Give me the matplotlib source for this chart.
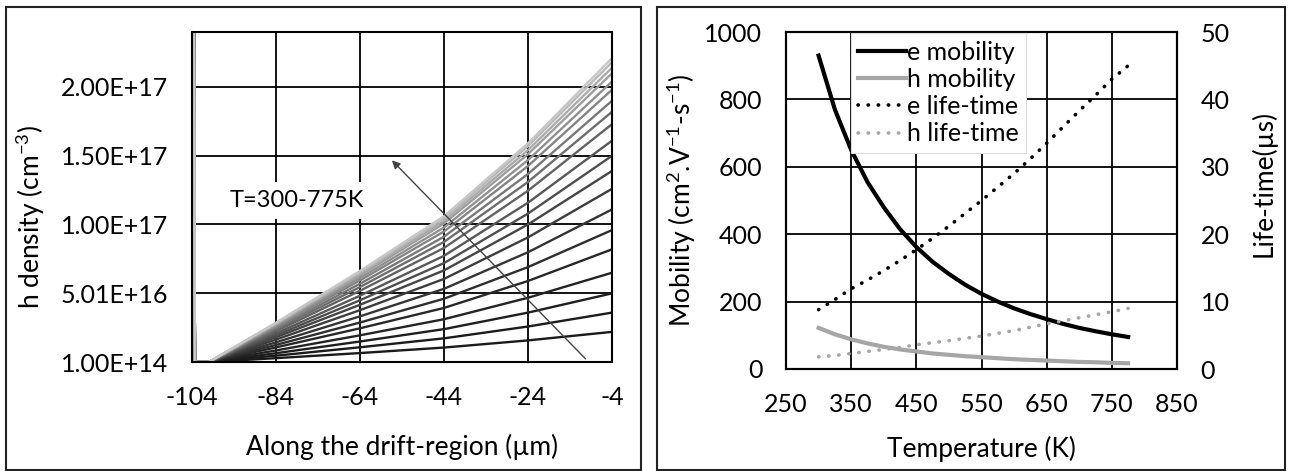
import numpy as np
import matplotlib
matplotlib.use("Agg")
import matplotlib.pyplot as plt
from matplotlib.patches import Rectangle

plt.rcParams['font.family'] = ['Lato', 'DejaVu Sans']
plt.rcParams['mathtext.default'] = 'regular'
plt.rcParams['axes.unicode_minus'] = False

# ---- left panel data: h density along drift region, T = 300..775 K (x1e15 cm^-3)
pos_um = [-103.6, -103.3, -100, -84, -64, -44, -24, -4]
temps_K = list(range(300, 776, 25))
h_density_e15 = [
    [300, 0.1, 0.1, 2.9, 6.6, 10.6, 15.8, 22],
    [300, 0.1, 0.1, 4.7, 10.8, 17.3, 25.9, 36],
    [300, 0.1, 0.1, 6.5, 15.0, 24.0, 36.0, 50],
    [300, 0.1, 0.1, 8.5, 19.5, 31.2, 46.8, 65],
    [300, 0.1, 0.1, 10.7, 24.6, 39.4, 59.0, 82],
    [300, 0.1, 0.1, 12.5, 28.8, 46.1, 69.1, 96],
    [300, 0.1, 0.1, 14.4, 33.3, 53.3, 79.9, 111],
    [300, 0.1, 0.1, 16.4, 37.8, 60.5, 90.7, 126],
    [300, 0.1, 0.1, 18.1, 41.7, 66.7, 100.1, 139],
    [300, 0.1, 0.1, 19.5, 45.0, 72.0, 108.0, 150],
    [300, 0.1, 0.1, 20.9, 48.3, 77.3, 115.9, 161],
    [300, 0.1, 0.1, 22.5, 51.9, 83.0, 124.6, 173],
    [300, 0.1, 0.1, 23.7, 54.6, 87.4, 131.0, 182],
    [300, 0.1, 0.1, 24.7, 57.0, 91.2, 136.8, 190],
    [300, 0.1, 0.1, 25.7, 59.4, 95.0, 142.6, 198],
    [300, 0.1, 0.1, 26.5, 61.2, 97.9, 146.9, 204],
    [300, 0.1, 0.1, 27.3, 63.0, 100.8, 151.2, 210],
    [300, 0.1, 0.1, 27.8, 64.2, 102.7, 154.1, 214],
    [300, 0.1, 0.1, 28.3, 65.4, 104.6, 157.0, 218],
    [300, 0.1, 0.1, 28.7, 66.3, 106.1, 159.1, 221],
]
left_xticks = [-104, -84, -64, -44, -24, -4]
left_yticks = [1e14, 5.01e16, 1.001e17, 1.501e17, 2.001e17]
left_ylabels = ["1.00E+14", "5.01E+16", "1.00E+17", "1.50E+17", "2.00E+17"]

# ---- right panel data: mobility and life-time vs temperature
temp = list(range(300, 776, 25))
e_mob = [930, 770, 650, 555, 480, 415, 362, 318, 282, 250,
         223, 200, 180, 163, 148, 134, 122, 112, 103, 95]
h_mob = [122, 103, 88, 76, 66, 58, 52, 46, 42, 38,
         35, 32, 29, 27, 25, 23, 21, 20, 18, 17]
e_life = [8.8, 10.3, 11.9, 13.2, 14.6, 16.1, 17.7, 19.4, 21.2, 23.1,
          25.0, 27.0, 29.0, 31.2, 33.5, 35.9, 38.3, 40.6, 43.0, 45.0]
h_life = [1.8, 2.0, 2.3, 2.6, 2.9, 3.2, 3.6, 3.9, 4.2, 4.55,
          4.9, 5.3, 5.7, 6.2, 6.7, 7.15, 7.6, 8.05, 8.5, 9.0]

W, H = 1290, 471
fig = plt.figure(figsize=(12.9, 4.71), dpi=100)
FS = 18
LFS = 19

# panel borders
for x0, x1 in [(6, 641), (657, 1285)]:
    fig.patches.append(Rectangle((x0 / W, 1 - 470 / H), (x1 - x0) / W, 463 / H,
                                 transform=fig.transFigure, fill=False,
                                 edgecolor='#222222', lw=1.5))

def style_axes(ax):
    ax.grid(True, color='black', lw=1.3)
    ax.set_axisbelow(True)
    for s in ax.spines.values():
        s.set_color('black')
        s.set_linewidth(1.5)
    ax.tick_params(length=0, labelsize=FS, pad=17)

# ---------------- left panel
ax1 = fig.add_axes([192 / W, 1 - 362 / H, 420 / W, 330 / H])
n = len(temps_K)
for i, row in enumerate(h_density_e15):
    g = 0.1 + 0.68 * (i / (n - 1)) ** 1.6
    ax1.plot(pos_um, np.array(row) * 1e15, color=(g, g, g), lw=1.7)
ax1.set_xlim(-104, -4)
ax1.set_ylim(1e14, 2.4e17)
ax1.set_xticks(left_xticks)
ax1.set_yticks(left_yticks)
ax1.set_yticklabels(left_ylabels)
style_axes(ax1)
ax1.set_xlabel("Along the drift-region (µm)", fontsize=LFS)
ax1.set_ylabel("h density (cm$^{-3}$)", fontsize=LFS)
ax1.xaxis.set_label_coords(0.5, -0.218)
ax1.yaxis.set_label_coords(-0.345, 0.44)
ax1.annotate("", xy=(-56.4, 1.467e17), xytext=(-10.3, 2.4e15),
             arrowprops=dict(arrowstyle='-|>', color='#444444', lw=1.0,
                             mutation_scale=12, shrinkA=0, shrinkB=0))
ax1.text(-79, 1.176e17, "T=300-775K", fontsize=17, ha='center', va='center',
         bbox=dict(facecolor='white', edgecolor='none', pad=6))

# ---------------- right panel
ax2 = fig.add_axes([786 / W, 1 - 369 / H, 391 / W, 337 / H])
ax3 = ax2.twinx()
l1, = ax2.plot(temp, e_mob, color='black', lw=3, label='e mobility')
l2, = ax2.plot(temp, h_mob, color='#a6a6a6', lw=3, label='h mobility')
l3, = ax3.plot(temp, e_life, color='black', lw=2.6, ls=(0, (0.1, 2.7)),
               dash_capstyle='round', label='e life-time')
l4, = ax3.plot(temp, h_life, color='#a6a6a6', lw=2.6, ls=(0, (0.1, 2.7)),
               dash_capstyle='round', label='h life-time')
ax2.set_xlim(250, 850)
ax2.set_ylim(0, 1000)
ax3.set_ylim(0, 50)
ax2.set_xticks(range(250, 851, 100))
ax2.set_yticks(range(0, 1001, 200))
ax3.set_yticks(range(0, 51, 10))
style_axes(ax2)
ax3.tick_params(length=0, labelsize=FS, pad=17)
for s in ax3.spines.values():
    s.set_color('black')
    s.set_linewidth(1.5)
ax2.set_xlabel("Temperature (K)", fontsize=LFS)
ax2.set_ylabel("Mobility (cm$^{2}$.V$^{-1}$-s$^{-1}$)", fontsize=LFS)
ax3.set_ylabel("Life-time(µs)", fontsize=LFS)
ax2.xaxis.set_label_coords(0.5, -0.199)
ax2.yaxis.set_label_coords(-0.225, 0.5)
ax3.yaxis.set_label_coords(1.189, 0.55)
leg = ax3.legend(handles=[l1, l2, l3, l4], loc='upper left',
                 bbox_to_anchor=(0.166, 0.997), fontsize=FS, frameon=True,
                 fancybox=False, edgecolor='#dddddd', framealpha=1,
                 handlelength=1.9, handletextpad=0.05, labelspacing=0.17,
                 borderpad=0.3, borderaxespad=0)
leg.get_frame().set_linewidth(0.8)

fig.savefig("out.png", dpi=100)
